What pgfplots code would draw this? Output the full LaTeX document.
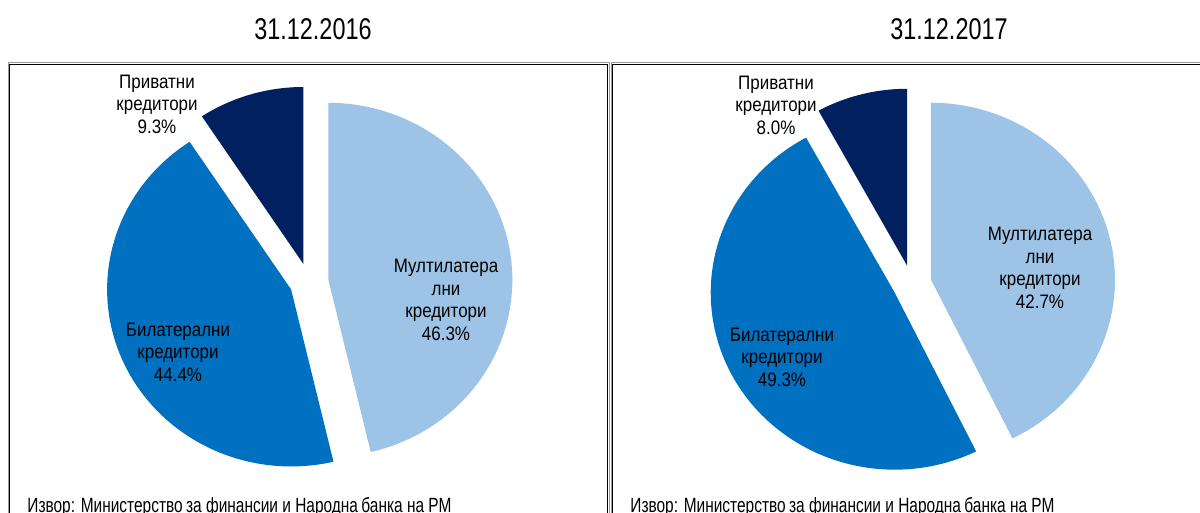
\documentclass[border=0pt]{standalone}
\usepackage{pgfplots}
\pgfplotsset{compat=1.18}
\usepackage{pgfplotstable}
\usepackage{fontspec}
\setmainfont{Liberation Sans}[FakeStretch=0.87]
\newfontfamily\titlefont{Liberation Sans}[FakeStretch=0.78]
\newfontfamily\srcfont{Liberation Sans}[FakeStretch=0.75]
\definecolor{lb}{RGB}{157,195,230}
\definecolor{mb}{RGB}{0,112,192}
\definecolor{db}{RGB}{0,32,96}

\pgfplotstableread{
name v2016 v2017
Multilateral 46.3 42.7
Bilateral 44.4 49.3
Private 9.3 8.0
}\piedata

\newcommand\Rx{184}
\newcommand\Ry{177}
\newcommand\dx{19.5}
\newcommand\dy{18.8}

\newcommand\slice[5]{%
  \pgfmathsetmacro\midang{(#3+#4)/2}%
  \pgfmathsetmacro\ox{#1+\dx*sin(\midang)}%
  \pgfmathsetmacro\oy{#2-\dy*cos(\midang)}%
  \edef\temp{\noexpand\addplot[fill=#5,draw=none,domain=#3:#4,samples=120,variable=\noexpand\t] ({\ox+\Rx*sin(\noexpand\t)},{\oy-\Ry*cos(\noexpand\t)}) -- (axis cs:\ox,\oy) -- cycle;}%
  \temp}

\newcommand\pie[3]{%
  \pgfplotstablegetelem{0}{#3}\of\piedata\let\va\pgfplotsretval
  \pgfplotstablegetelem{1}{#3}\of\piedata\let\vb\pgfplotsretval
  \pgfplotstablegetelem{2}{#3}\of\piedata\let\vc\pgfplotsretval
  \pgfmathsetmacro\aA{3.6*\va}%
  \pgfmathsetmacro\aB{\aA+3.6*\vb}%
  \pgfmathsetmacro\aC{\aB+3.6*\vc}%
  \slice{#1}{#2}{0}{\aA}{lb}%
  \slice{#1}{#2}{\aA}{\aB}{mb}%
  \slice{#1}{#2}{\aB}{\aC}{db}%
}

\begin{document}
\begin{tikzpicture}
\useasboundingbox (0,0) rectangle (600pt,256.5pt);
\begin{axis}[at={(0,0)},anchor=south west,scale only axis,
  width=600pt,height=256.5pt,xmin=0,xmax=1200,ymin=0,ymax=513,
  y dir=reverse,hide axis,clip=true]
\pie{309}{282}{v2016}
\pie{912}{284}{v2017}
\draw[line width=0.5pt,black!40] (8,63) rectangle (609,540);
\draw[line width=0.5pt,black!40] (611,63) rectangle (1240,540);
\draw[line width=0.8pt,black] (9.5,64.5) rectangle (607.5,540);
\draw[line width=0.8pt,black] (612.5,64.5) rectangle (1240,540);
\node[font=\titlefont\fontsize{15pt}{18pt}\selectfont,inner sep=0] at (313,29) {31.12.2016};
\node[font=\titlefont\fontsize{15pt}{18pt}\selectfont,inner sep=0] at (949,29) {31.12.2017};
\tikzset{lab/.style={font=\fontsize{9.75pt}{11.25pt}\selectfont,align=center,inner sep=0}}
\node[lab] at (446,300) {Мултилатера\\лни\\кредитори\\46.3\%};
\node[lab] at (178,352) {Билатерални\\кредитори\\44.4\%};
\node[lab] at (157,104) {Приватни\\кредитори\\9.3\%};
\node[lab] at (1040,268) {Мултилатера\\лни\\кредитори\\42.7\%};
\node[lab] at (782,357) {Билатерални\\кредитори\\49.3\%};
\node[lab] at (776,105) {Приватни\\кредитори\\8.0\%};
\node[font=\srcfont\fontsize{10.3pt}{12pt}\selectfont,anchor=base west,inner sep=0] at (27,512) {Извор: Министерство\,за финансии и Народна\,банка на РМ};
\node[font=\srcfont\fontsize{10.3pt}{12pt}\selectfont,anchor=base west,inner sep=0] at (630,512) {Извор: Министерство\,за финансии и Народна\,банка на РМ};
\end{axis}
\end{tikzpicture}
\end{document}
